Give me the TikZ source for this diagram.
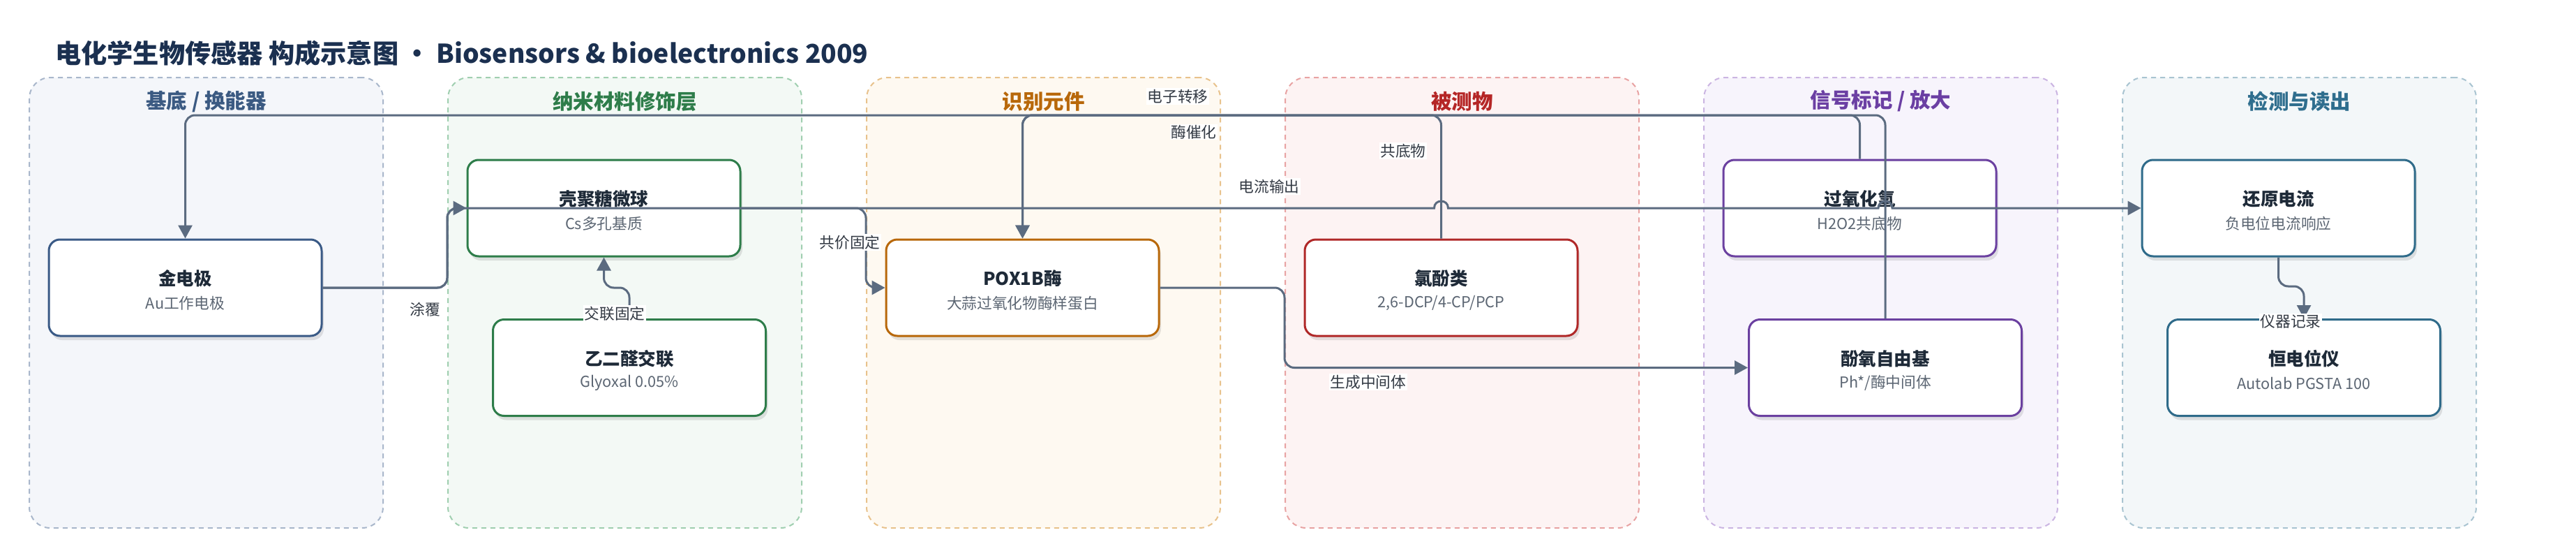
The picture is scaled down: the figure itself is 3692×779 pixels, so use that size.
\documentclass[tikz,border=0pt]{standalone}
\usepackage{fontspec}
\setmainfont{Noto Sans CJK SC}
\usetikzlibrary{arrows.meta,shadows}
\definecolor{edgec}{HTML}{5B6B80}
\definecolor{lblc}{HTML}{333A44}
\definecolor{ttlc}{HTML}{1E2A38}
\definecolor{subc}{HTML}{5C6673}
\definecolor{headc}{HTML}{1B3050}
\definecolor{aF}{HTML}{F4F6FA}\definecolor{aD}{HTML}{A9B7CB}\definecolor{aT}{HTML}{3B5A82}\definecolor{aN}{HTML}{3A5A86}
\definecolor{bF}{HTML}{F3F9F5}\definecolor{bD}{HTML}{A0CFB0}\definecolor{bT}{HTML}{2E7D4A}\definecolor{bN}{HTML}{2E7D4A}
\definecolor{cF}{HTML}{FEF9F1}\definecolor{cD}{HTML}{E8C28C}\definecolor{cT}{HTML}{B8680A}\definecolor{cN}{HTML}{B8680A}
\definecolor{dF}{HTML}{FDF3F3}\definecolor{dD}{HTML}{E8A3A3}\definecolor{dT}{HTML}{B52626}\definecolor{dN}{HTML}{B02828}
\definecolor{eF}{HTML}{F7F4FC}\definecolor{eD}{HTML}{CBB5E2}\definecolor{eT}{HTML}{6B3FA3}\definecolor{eN}{HTML}{6B40A0}
\definecolor{fF}{HTML}{F3F7F9}\definecolor{fD}{HTML}{A9C4D1}\definecolor{fT}{HTML}{2F6E8E}\definecolor{fN}{HTML}{2F6B8A}
\newcommand\myfs[1]{\fontsize{#1}{#1}\selectfont}
\tikzset{
  clu/.style={rectangle, dashed, dash pattern=on 7pt off 6pt, line width=2pt, rounded corners=30pt,
    minimum width=507pt, minimum height=645pt, inner sep=0pt},
  clt/.style={font=\myfs{29.5}\bfseries, inner sep=0pt},
  bx/.style={rectangle, rounded corners=16pt, fill=white, line width=3pt,
    minimum width=391pt, minimum height=138pt, inner sep=0pt,
    drop shadow={shadow xshift=3pt, shadow yshift=-6pt, opacity=0.10, fill=black}},
  ttl/.style={font=\myfs{25.5}\bfseries, text=ttlc, inner sep=0pt},
  sub/.style={font=\myfs{21.7}, text=subc, inner sep=0pt},
  edge/.style={draw=edgec, line width=3pt, rounded corners=14pt, -{Triangle[length=19pt,width=20pt]}},
  lbl/.style={font=\myfs{21.7}, text=lblc, fill=white, inner sep=1.5pt},
}
\newcommand\mkbox[6]{%
  \node[bx, draw=#4] (#1) at (#2,#3) {};
  \node[ttl] (#1-t) at ([yshift=13pt]#1.center) {#5};
  \node[sub] (#1-s) at ([yshift=-22pt]#1.center) {#6};
}
\begin{document}
\begin{tikzpicture}[x=1pt,y=-1pt]
\useasboundingbox (0,0) rectangle (3692,779);
\fill[white] (0,0) rectangle (3692,779);
% title
\node[anchor=west, font=\myfs{37.2}\bfseries, text=headc, inner sep=0pt] (head) at (79,76)
  {电化学生物传感器 构成示意图 • Biosensors \& bioelectronics 2009};
% clusters
\node[clu, draw=aD, fill=aF] (c1) at (295.5,433.5) {};
\node[clu, draw=bD, fill=bF] (c2) at (895.5,433.5) {};
\node[clu, draw=cD, fill=cF] (c3) at (1495.5,433.5) {};
\node[clu, draw=dD, fill=dF] (c4) at (2095.5,433.5) {};
\node[clu, draw=eD, fill=eF] (c5) at (2695.5,433.5) {};
\node[clu, draw=fD, fill=fF] (c6) at (3295.5,433.5) {};
\node[clt, text=aT] (c1t) at (295.5,145) {基底 / 换能器};
\node[clt, text=bT] (c2t) at (895.5,145) {纳米材料修饰层};
\node[clt, text=cT] (c3t) at (1495.5,145) {识别元件};
\node[clt, text=dT] (c4t) at (2095.5,145) {被测物};
\node[clt, text=eT] (c5t) at (2695.5,145) {信号标记 / 放大};
\node[clt, text=fT] (c6t) at (3295.5,145) {检测与读出};
% nodes
\mkbox{gold}{265.5}{412}{aN}{金电极}{Au工作电极}
\mkbox{chito}{865.5}{298}{bN}{壳聚糖微球}{Cs多孔基质}
\mkbox{gly}{902}{526.5}{bN}{乙二醛交联}{Glyoxal 0.05\%}
\mkbox{pox}{1465.5}{412}{cN}{POX1B酶}{大蒜过氧化物酶样蛋白}
\mkbox{clp}{2065.5}{412}{dN}{氯酚类}{2,6-DCP/4-CP/PCP}
\mkbox{h2o2}{2665.5}{298}{eN}{过氧化氢}{H2O2共底物}
\mkbox{phen}{2702}{526.5}{eN}{酚氧自由基}{Ph*/酶中间体}
\mkbox{rd}{3265.5}{298}{fN}{还原电流}{负电位电流响应}
\mkbox{pot}{3302}{526.5}{fN}{恒电位仪}{Autolab PGSTA 100}
% edges
\draw[edge] (gold.east) -- (641,412) -- (641,298) -- (chito.west);
\draw[edge] (gly.north) -- (902,412) -- (865.5,412) -- (chito.south);
\draw[edge] (chito.east) -- (1241,298) -- (1241,412) -- (pox.west);
\draw[edge] (phen.north) -- (2702,165) -- (265.5,165) -- (gold.north);
\draw[edge] (h2o2.north) -- (2665.5,165) -- (1465.5,165) -- (pox.north);
\draw[edge] (clp.north) -- (2065.5,165) -- (1465.5,165) -- (pox.north);
\draw[edge] (pox.east) -- (1841,412) -- (1841,526.5) -- (phen.west);
\draw[edge] (gold.east) -- (641,412) -- (641,298) -- (1500,298) [sharp corners]
  -- (2055.5,298) .. controls (2055.5,284.7) and (2075.5,284.7) .. (2075.5,298)
  -- (2692,298) .. controls (2692,284.7) and (2712,284.7) .. (2712,298) -- (rd.west);
\draw[edge] (rd.south) -- (3265.5,410) -- (3302,410) -- (pot.north);
% labels
\node[lbl] (l1) at (609,443) {涂覆};
\node[lbl] (l2) at (881,449) {交联固定};
\node[lbl] (l3) at (1218,347) {共价固定};
\node[lbl] (l4) at (1688,138) {电子转移};
\node[lbl] (l5) at (1711,189) {酶催化};
\node[lbl] (l6) at (1819,267) {电流输出};
\node[lbl] (l7) at (2011,216) {共底物};
\node[lbl] (l8) at (1961,547) {生成中间体};
\node[lbl] (l9) at (3283,460) {仪器记录};
\end{tikzpicture}
\end{document}
